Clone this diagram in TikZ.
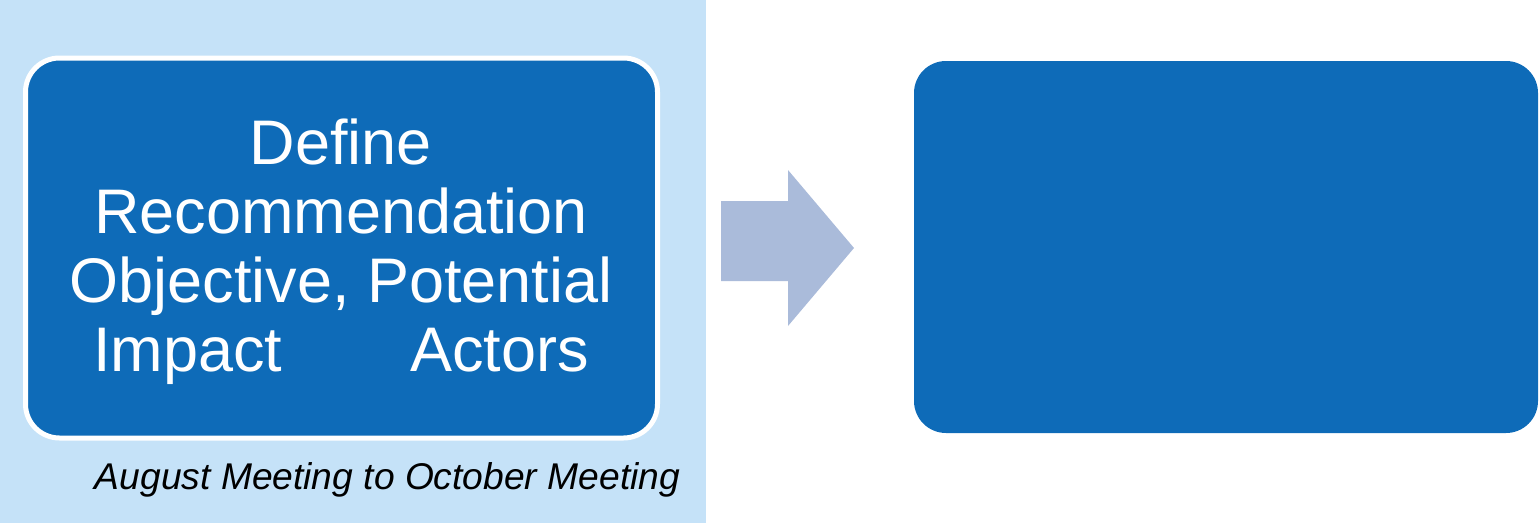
\documentclass[tikz,border=0pt]{standalone}
\usepackage{fontspec}
\setmainfont{Liberation Sans}
\definecolor{panelblue}{HTML}{C5E2F8}
\definecolor{boxblue}{HTML}{0E6BB8}
\definecolor{arrowblue}{HTML}{AABBDA}
\begin{document}
\begin{tikzpicture}[x=1pt,y=-1pt,
  stagebox/.style={fill=boxblue,rounded corners=34pt},
  stagetext/.style={text=white,align=center,font=\fontsize{63}{68.7}\selectfont},
  datetext/.style={text=black,font=\fontsize{37.2}{42}\selectfont\itshape}]
  \useasboundingbox (0,0) rectangle (1539,525);
  % light panel behind the first stage
  \fill[panelblue] (0,0) rectangle (706,523);
  % first stage, framed in white
  \path[stagebox,draw=white,line width=5pt] (25.5,58) rectangle (657.5,438);
  % the base anchor of this multi-line node sits on its last line
  \node[stagetext,anchor=base] (first) at (341,371)
    {Define\\Recommendation\\Objective, Potential\\Impact\hspace{128pt}Actors};
  \node[datetext,anchor=base] (dates) at (387.5,489) {August Meeting to October Meeting};
  % block arrow between the stages
  \fill[arrowblue] (721,201) -- (788,201) -- (788,170) -- (854,248)
    -- (788,326) -- (788,281) -- (721,281) -- cycle;
  % second stage
  \path[stagebox,rounded corners=32pt] (914,61) rectangle (1538,433);
\end{tikzpicture}
\end{document}
